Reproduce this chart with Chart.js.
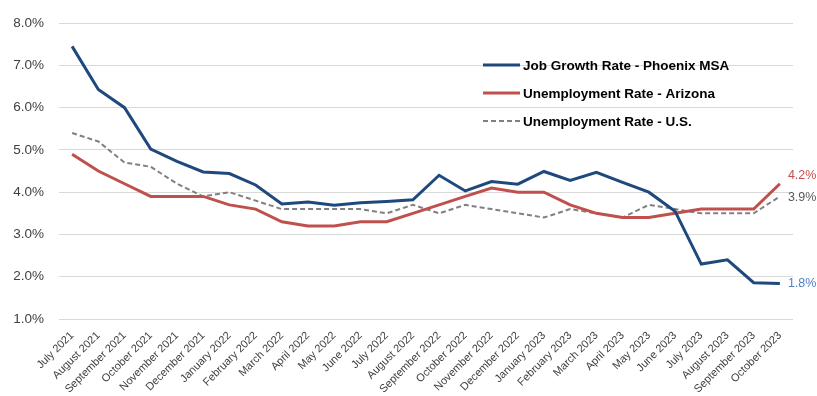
<!DOCTYPE html>
<html>
<head>
<meta charset="utf-8">
<script src="https://cdn.jsdelivr.net/npm/chart.js@4"></script>
<style>
html,body{margin:0;padding:0;background:#fff;}
#wrap{width:817px;height:396px;position:relative;}
</style>
</head>
<body>
<div id="wrap"><canvas id="c" width="817" height="396"></canvas></div>
<script>
const categories = ["July 2021","August 2021","September 2021","October 2021","November 2021","December 2021",
  "January 2022","February 2022","March 2022","April 2022","May 2022","June 2022","July 2022","August 2022",
  "September 2022","October 2022","November 2022","December 2022","January 2023","February 2023","March 2023",
  "April 2023","May 2023","June 2023","July 2023","August 2023","September 2023","October 2023"];

const jobGrowthPhoenix = [7.45,6.43,6.0,5.02,4.73,4.48,4.44,4.17,3.72,3.77,3.69,3.75,3.78,3.82,
  4.40,4.03,4.25,4.19,4.49,4.28,4.47,4.23,4.0,3.55,2.30,2.40,1.86,1.84];
const unemploymentArizona = [4.9,4.5,4.2,3.9,3.9,3.9,3.7,3.6,3.3,3.2,3.2,3.3,3.3,3.5,
  3.7,3.9,4.1,4.0,4.0,3.7,3.5,3.4,3.4,3.5,3.6,3.6,3.6,4.2];
const unemploymentUS = [5.4,5.2,4.7,4.6,4.2,3.9,4.0,3.8,3.6,3.6,3.6,3.6,3.5,3.7,
  3.5,3.7,3.6,3.5,3.4,3.6,3.5,3.4,3.7,3.6,3.5,3.5,3.5,3.9];

const seriesNames = ["Job Growth Rate - Phoenix MSA","Unemployment Rate - Arizona","Unemployment Rate - U.S."];
const endLabels = ["1.8%","4.2%","3.9%"];
const yTicks = [1,2,3,4,5,6,7,8];

const colors = {blue:"#1F497D", red:"#C0504D", gray:"#808080", blueLabel:"#4F81BD"};

const legendPlugin = {
  id: "customLegend",
  afterDatasetsDraw(chart) {
    const ctx = chart.ctx;
    const x0 = 483, x1 = 520, ys = [65, 93, 121];
    ctx.save();
    [0,1,2].forEach((i, k) => {
      const ds = chart.data.datasets[i];
      ctx.beginPath();
      ctx.strokeStyle = ds.borderColor;
      ctx.lineWidth = ds.borderWidth;
      ctx.setLineDash(ds.borderDash || []);
      ctx.moveTo(x0, ys[k]);
      ctx.lineTo(x1, ys[k]);
      ctx.stroke();
      ctx.setLineDash([]);
      ctx.fillStyle = "#000";
      ctx.font = "bold 13.5px 'Liberation Sans', Arial, sans-serif";
      ctx.textBaseline = "middle";
      ctx.textAlign = "left";
      ctx.fillText(ds.label, x1 + 3, ys[k] + 1);
    });
    ctx.restore();
  }
};

const endLabelPlugin = {
  id: "endLabels",
  afterDatasetsDraw(chart) {
    const ctx = chart.ctx;
    const offs = [0, -8, 1];
    const cols = [colors.blueLabel, colors.red, "#595959"];
    ctx.save();
    ctx.font = "12.5px 'Liberation Sans', Arial, sans-serif";
    ctx.textBaseline = "middle";
    ctx.textAlign = "left";
    chart.data.datasets.forEach((ds, i) => {
      const meta = chart.getDatasetMeta(i);
      const pt = meta.data[meta.data.length - 1];
      ctx.fillStyle = cols[i];
      ctx.fillText(endLabels[i], pt.x + 8, pt.y + offs[i]);
    });
    ctx.restore();
  }
};

new Chart(document.getElementById("c"), {
  type: "line",
  data: {
    labels: categories,
    datasets: [
      {label: seriesNames[0], data: jobGrowthPhoenix, borderColor: colors.blue, backgroundColor: colors.blue,
       borderWidth: 3, pointRadius: 0, tension: 0, fill: false},
      {label: seriesNames[1], data: unemploymentArizona, borderColor: colors.red, backgroundColor: colors.red,
       borderWidth: 3, pointRadius: 0, tension: 0, fill: false},
      {label: seriesNames[2], data: unemploymentUS, borderColor: colors.gray, backgroundColor: colors.gray,
       borderWidth: 2, borderDash: [5, 3], pointRadius: 0, tension: 0, fill: false}
    ]
  },
  options: {
    responsive: false,
    animation: false,
    layout: {padding: {top: 16, right: 24, left: 0, bottom: 0}},
    plugins: {legend: {display: false}, tooltip: {enabled: false}},
    scales: {
      x: {
        offset: true,
        grid: {display: false, drawTicks: false},
        border: {display: false},
        ticks: {
          autoSkip: false, maxRotation: 45, minRotation: 45, padding: 10,
          color: "#404040", font: {size: 11, family: "'Liberation Sans', Arial, sans-serif"}
        },
        afterFit(scale) { scale.height = 77; }
      },
      y: {
        min: 1, max: 8,
        afterBuildTicks(scale) { scale.ticks = yTicks.map(v => ({value: v})); },
        grid: {color: "#D9D9D9", lineWidth: 1, drawTicks: false},
        border: {display: false},
        ticks: {
          padding: 15, color: "#404040",
          font: {size: 13.5, family: "'Liberation Sans', Arial, sans-serif"},
          callback: v => v.toFixed(1) + "%"
        },
        afterFit(scale) { scale.width = 59; }
      }
    }
  },
  plugins: [legendPlugin, endLabelPlugin]
});
</script>
</body>
</html>
